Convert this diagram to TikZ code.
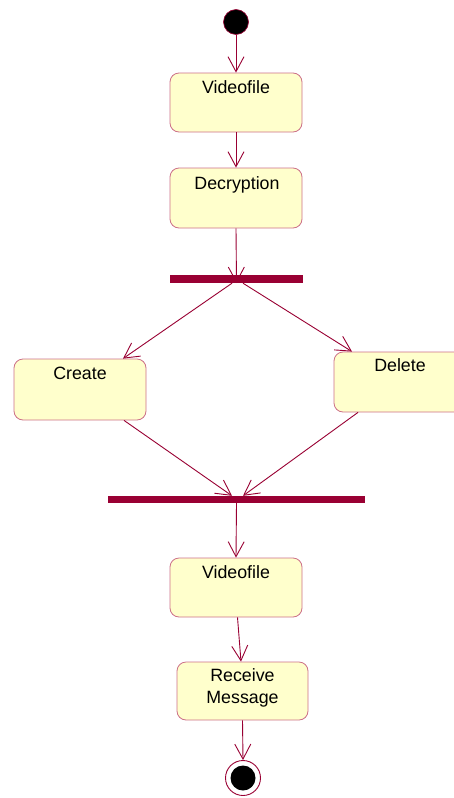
\documentclass[tikz,border=0pt]{standalone}
\usepackage{fontspec}
\setmainfont{Liberation Sans}
\usetikzlibrary{arrows.meta,calc}

\definecolor{flow}{HTML}{990033}
\definecolor{actborder}{HTML}{CC7088}
\definecolor{actfill}{HTML}{FFFFCC}

\tikzset{
  activity/.style={draw=actborder, fill=actfill, line width=0.8pt,
    rounded corners=9pt, minimum width=132pt, inner sep=0pt},
  acttext/.style={anchor=base, inner sep=0pt, font=\fontsize{17.8}{22}\selectfont,
    align=center},
  syncbar/.style={fill=flow, draw=none, inner sep=0pt, minimum height=8pt},
  flowarrow/.style={draw=flow, line width=0.9pt,
    -{Straight Barb[length=15pt,width=16pt,line width=0.9pt]}},
}

\begin{document}
\begin{tikzpicture}[x=1pt, y=-1pt]
\useasboundingbox (0,0) rectangle (454,798);
\fill[white] (0,0) rectangle (454,798);

% initial state
\node[circle, fill=black, draw=flow, line width=0.6pt, minimum size=25pt, inner sep=0pt]
  (start) at (236,22) {};

% activities
\node[activity, minimum height=59pt] (video1) at (236,102.5) {};
\node[acttext] (video1t) at (236,93.5) {Videofile};

\node[activity, minimum height=60pt] (decrypt) at (236,198) {};
\node[acttext] (decryptt) at (237,189.5) {Decryption};

% fork
\node[syncbar, minimum width=133pt] (fork) at (236.5,279) {};

\node[activity, minimum height=61pt] (create) at (80,389.5) {};
\node[acttext] (createt) at (80,379.5) {Create};

\node[activity, minimum height=60pt] (delete) at (400,382) {};
\node[acttext] (deletet) at (400,371.5) {Delete};

% join
\node[syncbar, minimum width=257pt, minimum height=7pt] (join) at (236.5,499.5) {};

\node[activity, minimum height=59pt] (video2) at (236,587.5) {};
\node[acttext] (video2t) at (236,578) {Videofile};

\node[activity, minimum width=131pt, minimum height=58pt] (receive) at (242.5,691) {};
% base anchor of a two-line node sits on the last line
\node[acttext] (receivet) at (242.5,703) {Receive\\Message};

% final state
\node[circle, draw=flow, fill=white, line width=0.9pt, minimum size=35pt, inner sep=0pt]
  (final) at (243,778) {};
\node[circle, fill=black, minimum size=25pt, inner sep=0pt] (finaldot) at (final) {};

% control flow
\draw[flowarrow] (start.south) -- (video1.north);
\draw[flowarrow] (video1.south) -- (decrypt.north);
\draw[flowarrow] (decrypt.south) -- ([yshift=-4pt]fork.center);
\draw[flowarrow] ([xshift=-4.5pt]fork.south) -- ([xshift=43pt]create.north);
\draw[flowarrow] ([xshift=6.5pt]fork.south) -- ([xshift=-48pt]delete.north);
\draw[flowarrow] ([xshift=44pt]create.south) -- ([xshift=-4.5pt]join.north);
\draw[flowarrow] ([xshift=-42pt]delete.south) -- ([xshift=6.5pt]join.north);
\draw[flowarrow] (join.south) -- (video2.north);
\draw[flowarrow] ([xshift=1.5pt]video2.south) -- ([xshift=-1.5pt]receive.north);
\draw[flowarrow] (receive.south) -- (final.north);
\end{tikzpicture}
\end{document}
